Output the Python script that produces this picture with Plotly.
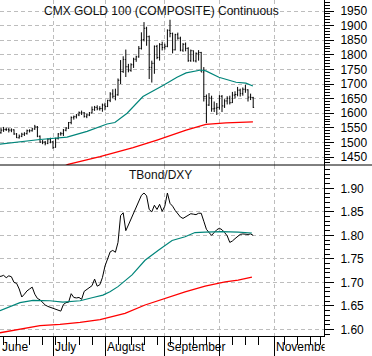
import plotly.graph_objects as go

# ---------------- data (trading-day index, 0 = 1 June) ----------------
day_idx = list(range(100))

gold_open = [1536, 1539, 1533, 1542, 1544, 1544, 1542, 1543, 1529, 1516,
             1521, 1528, 1530, 1540, 1540, 1546, 1553, 1521, 1501, 1501,
             1497, 1511, 1502, 1483, 1513, 1529, 1530, 1542, 1549, 1568,
             1585, 1588, 1594, 1602, 1601, 1589, 1594, 1601, 1612, 1620,
             1615, 1616, 1628, 1623, 1644, 1666, 1658, 1663, 1713, 1743,
             1784, 1759, 1747, 1766, 1785, 1793, 1822, 1852, 1891, 1862,
             1757, 1771, 1829, 1791, 1835, 1825, 1829, 1884, 1873, 1817,
             1869, 1857, 1816, 1836, 1822, 1780, 1814, 1779, 1805, 1808,
             1741, 1657, 1628, 1652, 1615, 1617, 1620, 1658, 1625, 1642,
             1651, 1636, 1662, 1664, 1679, 1667, 1682, 1680, 1655, 1654]
gold_high = [1549, 1545, 1549, 1553, 1551, 1549, 1548, 1545, 1532, 1527,
             1533, 1535, 1544, 1545, 1550, 1560, 1556, 1524, 1508, 1505,
             1514, 1516, 1504, 1516, 1532, 1536, 1546, 1552, 1570, 1589,
             1592, 1597, 1606, 1609, 1604, 1598, 1604, 1623, 1625, 1627,
             1624, 1633, 1636, 1646, 1672, 1682, 1684, 1719, 1782, 1795,
             1818, 1769, 1771, 1790, 1797, 1830, 1877, 1912, 1896, 1866,
             1780, 1832, 1834, 1840, 1845, 1838, 1887, 1920, 1876, 1872,
             1876, 1862, 1840, 1842, 1826, 1818, 1815, 1808, 1816, 1810,
             1758, 1664, 1669, 1660, 1640, 1635, 1662, 1662, 1648, 1658,
             1660, 1673, 1675, 1690, 1684, 1688, 1697, 1682, 1667, 1656]
gold_low = [1532, 1526, 1530, 1536, 1539, 1534, 1535, 1526, 1515, 1513,
            1518, 1522, 1527, 1534, 1537, 1543, 1518, 1498, 1494, 1490,
            1494, 1497, 1478, 1482, 1510, 1523, 1522, 1538, 1546, 1562,
            1578, 1582, 1590, 1594, 1585, 1583, 1590, 1600, 1608, 1610,
            1609, 1605, 1610, 1621, 1638, 1652, 1644, 1660, 1700, 1738,
            1724, 1740, 1742, 1755, 1776, 1790, 1818, 1846, 1831, 1717,
            1705, 1735, 1785, 1780, 1815, 1818, 1826, 1860, 1805, 1815,
            1852, 1812, 1810, 1812, 1776, 1776, 1777, 1774, 1780, 1741,
            1640, 1566, 1625, 1605, 1604, 1594, 1612, 1604, 1618, 1630,
            1630, 1635, 1650, 1658, 1657, 1660, 1670, 1640, 1645, 1618]
gold_close = [1539, 1533, 1542, 1544, 1544, 1542, 1543, 1529, 1516, 1521,
              1528, 1530, 1540, 1540, 1546, 1553, 1521, 1501, 1501, 1497,
              1511, 1502, 1483, 1513, 1529, 1530, 1542, 1549, 1568, 1585,
              1588, 1594, 1602, 1601, 1589, 1594, 1601, 1612, 1620, 1615,
              1616, 1628, 1623, 1644, 1666, 1658, 1663, 1713, 1743, 1784,
              1759, 1747, 1766, 1785, 1793, 1822, 1852, 1891, 1862, 1757,
              1771, 1829, 1791, 1835, 1825, 1829, 1884, 1873, 1817, 1869,
              1857, 1816, 1836, 1822, 1780, 1814, 1779, 1805, 1808, 1741,
              1657, 1628, 1652, 1615, 1617, 1620, 1658, 1625, 1642, 1651,
              1636, 1662, 1664, 1679, 1667, 1682, 1680, 1655, 1654, 1620]

# moving averages (index, value)
gold_ma_fast_x = [1.6, 9.3, 17.0, 27.4, 35.1, 42.8, 45.8, 50.5, 56.6, 64.3,
                  69.7, 73.2, 78.9, 80.8, 85.8, 92.4, 96.2, 98.9]
gold_ma_fast_y = [1494, 1502, 1510, 1518, 1538, 1563, 1568, 1600, 1657, 1695,
                  1723, 1738, 1748, 1745, 1723, 1706, 1703, 1693]
gold_ma_slow_x = [25.0, 27.8, 40.1, 52.8, 62.0, 73.2, 80.8, 88.5, 98.9]
gold_ma_slow_y = [1412, 1425, 1451, 1482, 1508, 1542, 1562, 1567, 1570]

ratio = [1.712, 1.712, 1.713, 1.715, 1.710, 1.714, 1.712, 1.700, 1.698, 1.686,
         1.669, 1.675, 1.682, 1.686, 1.690, 1.675, 1.666, 1.663, 1.657, 1.652,
         1.649, 1.647, 1.646, 1.644, 1.641, 1.639, 1.653, 1.657, 1.658, 1.676,
         1.668, 1.667, 1.668, 1.664, 1.681, 1.685, 1.689, 1.693, 1.707, 1.692,
         1.695, 1.710, 1.735, 1.752, 1.765, 1.768, 1.764, 1.785, 1.842, 1.848,
         1.810, 1.822, 1.835, 1.847, 1.860, 1.874, 1.885, 1.890, 1.884, 1.855,
         1.850, 1.864, 1.855, 1.866, 1.851, 1.862, 1.890, 1.868, 1.862, 1.853,
         1.846, 1.839, 1.836, 1.839, 1.843, 1.846, 1.845, 1.844, 1.847, 1.847,
         1.830, 1.813, 1.806, 1.800, 1.806, 1.812, 1.815, 1.812, 1.806, 1.799,
         1.785, 1.788, 1.793, 1.797, 1.802, 1.803, 1.802, 1.802, 1.803, 1.800]

ratio_ma_fast_x = [1.6, 5.5, 9.3, 14.3, 20.8, 25.8, 32.4, 37.4, 41.2, 43.9,
                   47.0, 52.4, 57.4, 62.4, 67.8, 72.8, 76.6, 80.5, 87.0, 93.2, 98.5]
ratio_ma_fast_y = [1.640, 1.648, 1.657, 1.662, 1.661, 1.658, 1.661, 1.668, 1.673, 1.680,
                   1.691, 1.716, 1.747, 1.768, 1.789, 1.797, 1.806, 1.807, 1.808, 1.807, 1.805]
ratio_ma_slow_x = [1.6, 9.3, 17.0, 24.7, 32.4, 40.1, 43.9, 49.7, 57.4, 65.1,
                   72.8, 80.5, 88.2, 93.2, 98.5]
ratio_ma_slow_y = [1.593, 1.601, 1.608, 1.611, 1.615, 1.621, 1.626, 1.634, 1.652, 1.666,
                   1.680, 1.692, 1.701, 1.705, 1.711]

month_idx = [0, 22, 42, 65, 86, 107]
month_names = ["June", "July", "August", "September", "", "November"]
week_idx = [3, 8, 13, 18, 23, 27, 32, 37, 47, 52, 57, 62, 67, 71, 76, 81,
            91, 96, 101, 111, 116, 121, 125]

title_top = "CMX GOLD 100 (COMPOSITE) Continuous"
title_bottom = "TBond/DXY"

# ---------------- figure ----------------
X_RANGE = [1.615, 126.23]
FONT = "Liberation Sans, Arial, sans-serif"
GRID = "#bdbdbd"
TEAL = "#00857a"
RED = "#ff0000"
SPLIT = 0.5089

fig = go.Figure()
fig.add_trace(go.Ohlc(x=day_idx, open=gold_open, high=gold_high, low=gold_low,
                      close=gold_close, xaxis="x", yaxis="y",
                      increasing=dict(line=dict(color="black", width=1)),
                      decreasing=dict(line=dict(color="black", width=1)),
                      tickwidth=0.35, hoverinfo="skip"))
fig.add_trace(go.Scatter(x=gold_ma_fast_x, y=gold_ma_fast_y, mode="lines",
                         line=dict(color=TEAL, width=1.2), xaxis="x", yaxis="y"))
fig.add_trace(go.Scatter(x=gold_ma_slow_x, y=gold_ma_slow_y, mode="lines",
                         line=dict(color=RED, width=1.3), xaxis="x", yaxis="y"))
fig.add_trace(go.Scatter(x=day_idx, y=ratio, mode="lines",
                         line=dict(color="black", width=1), xaxis="x2", yaxis="y2"))
fig.add_trace(go.Scatter(x=ratio_ma_fast_x, y=ratio_ma_fast_y, mode="lines",
                         line=dict(color=TEAL, width=1.2), xaxis="x2", yaxis="y2"))
fig.add_trace(go.Scatter(x=ratio_ma_slow_x, y=ratio_ma_slow_y, mode="lines",
                         line=dict(color=RED, width=1.3), xaxis="x2", yaxis="y2"))
# invisible trace to activate label axis
fig.add_trace(go.Scatter(x=[X_RANGE[0]], y=[1.7], mode="markers",
                         marker=dict(opacity=0), xaxis="x3", yaxis="y2", hoverinfo="skip"))

label_pos = [max(v, X_RANGE[0] + 0.01) for v in month_idx]

yaxis_common = dict(side="right", ticks="outside", ticklen=9, tickcolor="black",
                    tickwidth=1, showline=True, linecolor="black", linewidth=1,
                    showgrid=True, gridcolor=GRID, griddash="4px,3px", gridwidth=1,
                    zeroline=False, tickfont=dict(family=FONT, size=12, color="black"),
                    ticklabelstandoff=4, fixedrange=True)

fig.update_layout(
    width=372, height=356,
    margin=dict(l=0, r=48, t=0, b=20),
    paper_bgcolor="white", plot_bgcolor="white",
    showlegend=False, hovermode=False,
    font=dict(family=FONT, size=12, color="black"),
    xaxis=dict(domain=[0, 1], anchor="y", range=X_RANGE, tickmode="array",
               tickvals=month_idx, showticklabels=False, ticks="",
               showgrid=True, gridcolor=GRID, griddash="4px,3px", gridwidth=1,
               zeroline=False, showline=False, rangeslider=dict(visible=False),
               fixedrange=True),
    xaxis2=dict(domain=[0, 1], anchor="y2", range=X_RANGE, tickmode="array",
                tickvals=month_idx, showticklabels=False, ticks="outside",
                ticklen=20, tickcolor="black", tickwidth=1,
                showgrid=True, gridcolor=GRID, griddash="4px,3px", gridwidth=1,
                zeroline=False, showline=True, linecolor="black", linewidth=1,
                minor=dict(tickmode="array", tickvals=week_idx, ticks="outside",
                           ticklen=8, tickcolor="black", tickwidth=1, showgrid=False),
                fixedrange=True),
    xaxis3=dict(overlaying="x2", anchor="y2", range=X_RANGE, tickmode="array",
                tickvals=label_pos, ticktext=month_names, ticks="",
                ticklabelposition="outside right", ticklabelstandoff=2,
                ticklabelshift=2, showgrid=False, zeroline=False, showline=False,
                tickfont=dict(family=FONT, size=12, color="black"), fixedrange=True),
    yaxis=dict(domain=[SPLIT, 1], anchor="x", range=[1422.6, 1987.7],
               tick0=1450, dtick=50,
               minor=dict(tick0=1450, dtick=10, ticks="outside", ticklen=5,
                          tickcolor="black", tickwidth=1, showgrid=False),
               **yaxis_common),
    yaxis2=dict(domain=[0, SPLIT], anchor="x2", range=[1.5861, 1.9495],
                tick0=1.6, dtick=0.05, tickformat=".2f",
                minor=dict(tick0=1.6, dtick=0.01, ticks="outside", ticklen=5,
                           tickcolor="black", tickwidth=1, showgrid=False),
                **yaxis_common),
    shapes=[
        dict(type="line", xref="paper", yref="paper", x0=0, x1=372 / 324,
             y0=SPLIT, y1=SPLIT, line=dict(color="black", width=1), layer="above"),
        dict(type="rect", xref="paper", yref="paper", x0=1.002, x1=1.2,
             y0=-0.004, y1=-0.1, fillcolor="white", line=dict(width=0), layer="above"),
    ],
    annotations=[
        dict(text=title_top, xref="paper", yref="paper", x=161 / 324, y=(336 - 11) / 336,
             xanchor="center", yanchor="middle", showarrow=False,
             font=dict(family=FONT, size=12, color="#111111")),
        dict(text=title_bottom, xref="paper", yref="paper", x=160.5 / 324,
             y=(336 - 175) / 336, xanchor="center", yanchor="middle", showarrow=False,
             font=dict(family=FONT, size=12, color="#111111")),
    ],
)

fig.write_html("out.html",
               config={"displayModeBar": False, "staticPlot": True},
               post_script="document.body.style.margin='0';document.body.style.padding='0';")
